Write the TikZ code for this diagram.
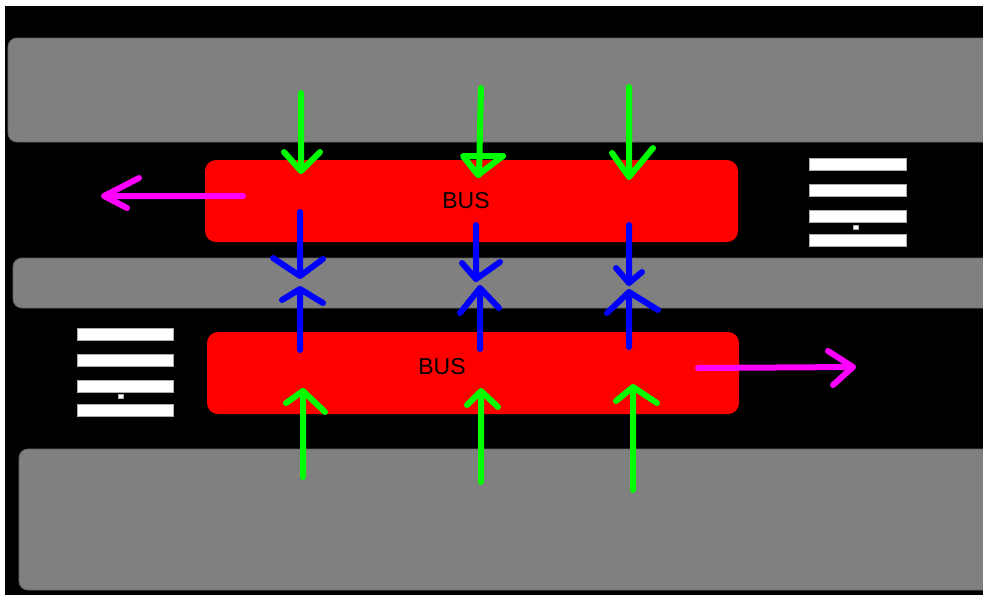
\documentclass[tikz,border=0pt]{standalone}
\usepackage{fontspec}
\setmainfont{Liberation Sans}
\begin{document}
\begin{tikzpicture}[x=1pt,y=-1pt,
  road/.style={fill={rgb,255:red,128;green,128;blue,128},draw={rgb,255:red,100;green,100;blue,100},line width=0.8pt,rounded corners=9pt},
  busbox/.style={fill={rgb,255:red,255;green,0;blue,0},rounded corners=11pt},
  stripe/.style={fill=white,draw={rgb,255:red,170;green,170;blue,170},line width=0.6pt},
  arr/.style={line width=6pt,line cap=round,line join=round},
  garr/.style={arr,draw={rgb,255:red,0;green,255;blue,0}},
  barr/.style={arr,draw={rgb,255:red,0;green,0;blue,255}},
  marr/.style={arr,draw={rgb,255:red,255;green,0;blue,255}},
  lbl/.style={font=\fontsize{23}{23}\selectfont,text=black,inner sep=0pt}]
\useasboundingbox (0,0) rectangle (983,595);
\fill[white] (0,0) rectangle (983,595);
\fill[black] (5,6) rectangle (983,595);
% roads
\path[road] (8,38) rectangle (1000,142);
\path[road] (13,258) rectangle (1000,308);
\path[road] (19,449) rectangle (1000,590);
% buses
\path[busbox] (205,160) rectangle (738,242);
\path[busbox] (207,332) rectangle (739,414);
\node[lbl] (bus1) at (466,200.5) {BUS};
\node[lbl] (bus2) at (442,367) {BUS};
% crosswalk right
\foreach \y in {158,184,210,234} \path[stripe] (809,\y) rectangle (906,\y+12);
\path[stripe] (853,225) rectangle (858,229);
% crosswalk left
\foreach \y in {328,354,380,404} \path[stripe] (77,\y) rectangle (173,\y+12);
\path[stripe] (118,394) rectangle (123,398);
% green arrows (down)
\draw[garr] (301,93) -- (301,171) (284,152) -- (301,171) -- (320,152);
\draw[garr] (481,88) -- (479,175) (463,156) -- (503,156) -- (478,175) -- cycle;
\draw[garr] (629,87) -- (629,177) (612,153) -- (629,177) -- (653,148);
% green arrows (up)
\draw[garr] (303,477) -- (303,391) (286,403) -- (303,391) -- (325,412);
\draw[garr] (481,482) -- (481,391) (467,405) -- (481,391) -- (498,407);
\draw[garr] (633,490) -- (633,387) (616,401) -- (633,387) -- (657,403);
% blue arrows (down)
\draw[barr] (300,212) -- (300,276) (273,258) -- (300,276) -- (323,259);
\draw[barr] (476,225) -- (476,279) (462,263) -- (476,279) -- (500,262);
\draw[barr] (629,225) -- (629,283) (616,268) -- (629,283) -- (642,272);
% blue arrows (up)
\draw[barr] (300,350) -- (300,289) (282,300) -- (300,289) -- (323,303);
\draw[barr] (480,349) -- (480,288) (460,313) -- (480,288) -- (499,308);
\draw[barr] (629,347) -- (629,292) (607,313) -- (629,292) -- (658,310);
% magenta arrows
\draw[marr] (243,196) -- (104,196) (139,178) -- (104,196) -- (127,208);
\draw[marr] (698,368) -- (853,367) (828,351) -- (853,367) -- (833,385);
\end{tikzpicture}
\end{document}
